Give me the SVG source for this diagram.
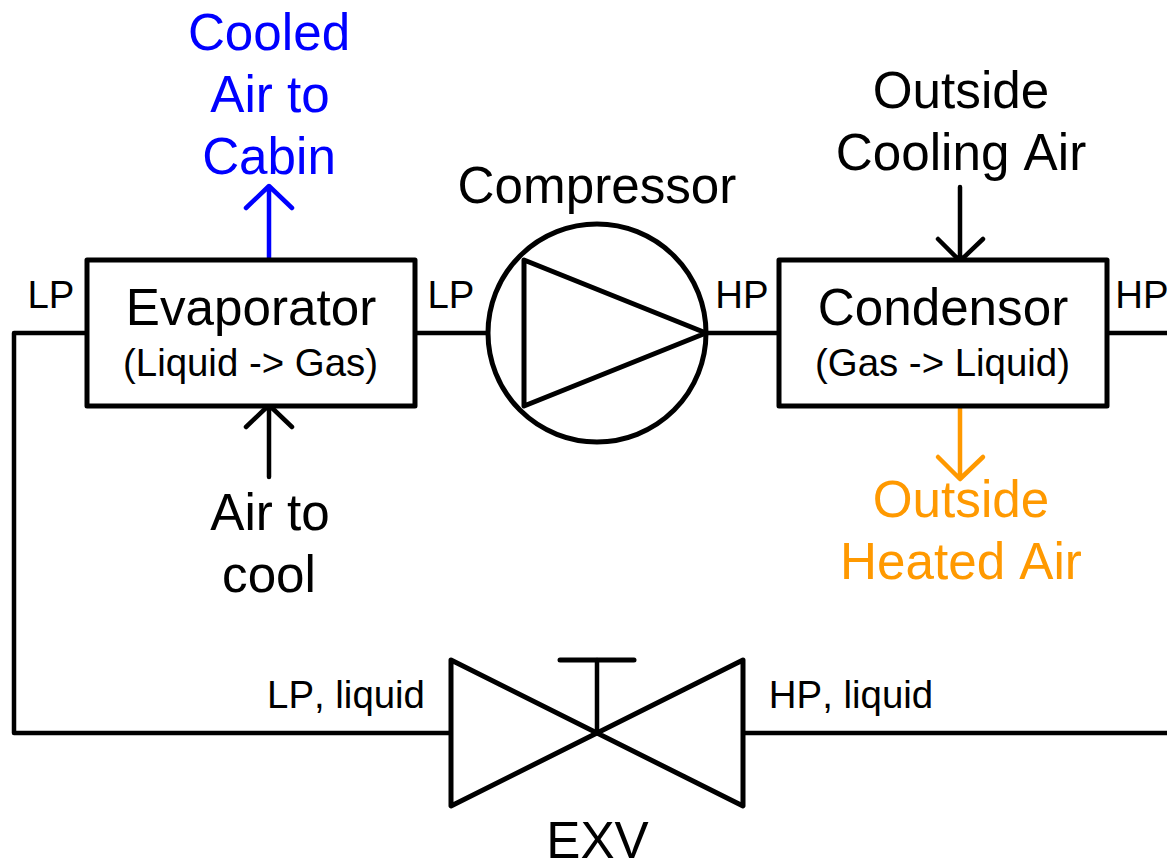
<svg xmlns="http://www.w3.org/2000/svg" width="1167" height="860" viewBox="0 0 1167 860">
<style>
text{font-family:"Liberation Sans",Arial,sans-serif;text-anchor:middle;fill:#000;font-kerning:none}
.l{font-size:51.2px}.s{font-size:38.4px}.p{font-size:38.4px}
.ln{fill:none;stroke:#000;stroke-width:4.5;stroke-linejoin:round;stroke-linecap:round}
.box{fill:#fff;stroke:#000;stroke-width:5;stroke-linejoin:round}
.th{stroke-width:5}
.b{fill:#0000ff}.o{fill:#ff9900}
</style>
<rect width="1167" height="860" fill="#fff"/>
<g id="connectors" class="ln">
<path d="M87 333H14V733H451"/>
<path d="M415 333H488"/>
<path d="M706 333H779"/>
<path d="M1107 333H1169"/>
<path d="M743 733H1169"/>
<path d="M269 258V187M246 208L269 186L292 208" stroke="#0000ff"/>
<path d="M269 477V406M246 427L269 405L292 427"/>
<path d="M960 187V260M938 239L960 261L983 239"/>
<path d="M960 406V477M938 457L960 479L983 457" stroke="#ff9900"/>
</g>
<g id="evaporator"><rect class="box" x="87" y="260" width="328" height="146"/><text class="l" x="251" y="325">Evaporator</text><text class="s" x="250.500" y="375.500">(Liquid -&gt; Gas)</text></g>
<g id="compressor"><circle class="box" cx="597" cy="333" r="109"/><path class="ln th" d="M524 260L706 333L524 406Z"/><text class="l" x="597" y="203">Compressor</text></g>
<g id="condensor"><rect class="box" x="779" y="260" width="328" height="146"/><text class="l" x="943" y="325">Condensor</text><text class="s" x="942.500" y="375.500">(Gas -&gt; Liquid)</text></g>
<g id="exv"><path class="box" d="M451 660L743 806V660L451 806Z"/><path class="ln" d="M597 733V660"/><path class="ln th" d="M560 660H634"/><text class="l" x="597.500" y="858">EXV</text></g>
<g id="labels">
<text class="p" x="51" y="308">LP</text><text class="p" x="451" y="308">LP</text><text class="p" x="742" y="308">HP</text><text class="p" x="1142" y="308">HP</text>
<text class="p" x="346" y="707.500">LP, liquid</text><text class="p" x="851" y="707.500">HP, liquid</text>
<text class="l b" x="269" y="50">Cooled</text><text class="l b" x="270" y="112">Air to</text><text class="l b" x="269" y="174">Cabin</text>
<text class="l" x="270" y="530">Air to</text><text class="l" x="269" y="592">cool</text>
<text class="l" x="961" y="108">Outside</text><text class="l" x="961" y="170">Cooling Air</text>
<text class="l o" x="961" y="517">Outside</text><text class="l o" x="961" y="579">Heated Air</text>
</g>
</svg>
